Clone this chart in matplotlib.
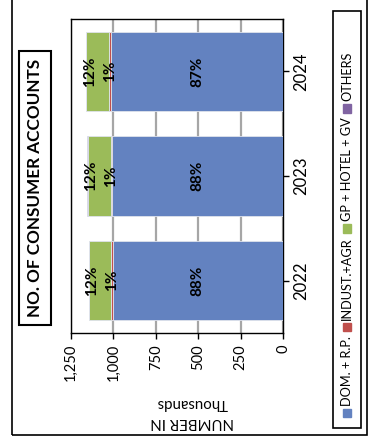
import numpy as np
import matplotlib
matplotlib.use("Agg")
import matplotlib.pyplot as plt
from matplotlib.patches import Rectangle

plt.rcParams['font.family'] = ['Lato', 'DejaVu Sans']

# chart data (thousands of accounts)
years = ['2022', '2023', '2024']
series_names = ['DOM. + R.P.', 'INDUST.+AGR', 'GP + HOTEL + GV', 'OTHERS']
dom = [1005, 1010, 1015]
indust = [7, 7, 8]
gp = [132, 135, 138]
others = [1, 1, 1]
value_ticks = [0, 250, 500, 750, 1000, 1250]
title = 'NO. OF CONSUMER ACCOUNTS'
axis_title = 'NUMBER IN'
unit_label = 'Thousands'

colors = ['#6382C0', '#C0504D', '#9BBB59', '#8064A2']

W, H = 374, 441


def fx(x):
    return x / W


def fy(y):
    return 1 - y / H


fig = plt.figure(figsize=(W / 100, H / 100), dpi=100)
fig.patch.set_facecolor('white')

# whole chart is drawn turned 90 degrees: values run right-to-left along the bottom
ax = fig.add_axes([fx(71), fy(333), fx(283) - fx(71), fy(19) - fy(333)])

series = [dom, indust, gp, others]
totals = np.sum(series, axis=0)
pos = np.arange(len(years))
left = np.zeros(len(years))
for vals, col in zip(series, colors):
    ax.barh(pos, vals, left=left, height=0.76, color=col,
            edgecolor='#dfe3ec', linewidth=0.6, zorder=3)
    left += np.array(vals)

# percentage labels (only the three visible series)
# the green label sits towards the outer end so it clears the 1% label
label_frac = [0.5, 0.5, 0.85]
left = np.zeros(len(years))
for k, vals in enumerate(series):
    vals = np.array(vals, dtype=float)
    if k < 3:
        for i in range(len(years)):
            pct = vals[i] / totals[i] * 100
            ax.text(left[i] + vals[i] * label_frac[k], pos[i], f'{max(pct, 1):.0f}%',
                    rotation=90, ha='center', va='center', fontsize=11,
                    fontweight='bold', color='black', zorder=5)
    left += vals

ax.set_xlim(1250, 0)
ax.set_ylim(-0.5, len(years) - 0.5)
ax.set_xticks(value_ticks)
ax.set_xticklabels([f'{v:,}' for v in value_ticks], rotation=90, fontsize=10.5)
ax.xaxis.grid(True, color='#a6a6a6', linewidth=1.6, zorder=0)
ax.set_axisbelow(True)

ax.yaxis.tick_right()
ax.set_yticks(pos)
ax.set_yticklabels(years, rotation=90, va='center', fontsize=12)
ax.tick_params(axis='y', length=4, width=1, pad=3, colors='black')
ax.tick_params(axis='x', length=4, width=1, pad=4, colors='black')
for s in ax.spines.values():
    s.set_color('black')
    s.set_linewidth(1.0)

# axis title and display units, upside down because of the turn
fig.text(fx(192), fy(422), axis_title, rotation=180, ha='center', va='center',
         fontsize=10.8)
fig.text(fx(192), fy(403), unit_label, rotation=180, ha='center', va='center',
         fontsize=10.8)

# chart title in a box
fig.patches.append(Rectangle((fx(19), fy(325)), fx(51) - fx(19), fy(51) - fy(325),
                             transform=fig.transFigure, fill=False,
                             edgecolor='black', linewidth=1.5))
fig.text(fx(35.5), fy(188), title, rotation=90, ha='center', va='center',
         fontsize=12.3, fontweight='bold')

# legend box on the right
fig.patches.append(Rectangle((fx(333), fy(428)), fx(361) - fx(333), fy(11) - fy(428),
                             transform=fig.transFigure, fill=False,
                             edgecolor='black', linewidth=1.2))

# outer chart border
fig.patches.append(Rectangle((fx(12), fy(435)), fx(367) - fx(12), fy(-5) - fy(435),
                             transform=fig.transFigure, fill=False,
                             edgecolor='black', linewidth=1.2))

renderer = fig.canvas.get_renderer()
y = 417.0
sq = 8.5
for name, col in zip(series_names, colors):
    fig.patches.append(Rectangle((fx(342.5), fy(y)), sq / W, sq / H,
                                 transform=fig.transFigure, color=col))
    t = fig.text(fx(347), fy(y - sq - 3), name, rotation=90, ha='center',
                 va='bottom', fontsize=9.2)
    bb = t.get_window_extent(renderer)
    y = y - sq - 3 - bb.height - 4.5

fig.savefig('out.png', dpi=100)
